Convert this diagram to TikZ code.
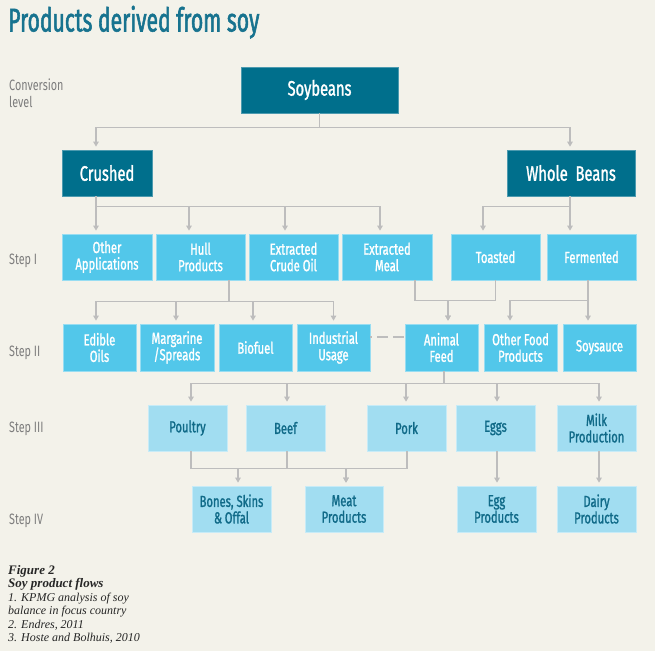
\documentclass[tikz,border=0pt]{standalone}
\usepackage{fontspec}
\usetikzlibrary{arrows.meta}
\newfontfamily\cond[FakeStretch=0.72]{Fira Sans}
\newfontfamily\condb[FakeStretch=0.70,FakeBold=1.3]{Fira Sans}
\newfontfamily\titlef[FakeStretch=0.64,FakeBold=1.6]{Fira Sans}
\newfontfamily\capfont{Liberation Serif}
\definecolor{bg}{HTML}{F3F2EA}
\definecolor{titlec}{HTML}{17738F}
\definecolor{darkc}{HTML}{006F8C}
\definecolor{midc}{HTML}{52C7EA}
\definecolor{lightc}{HTML}{A1DDF1}
\definecolor{lighttext}{HTML}{106A88}
\definecolor{linec}{HTML}{BDBDBD}
\definecolor{labelc}{HTML}{7D7D7D}
\begin{document}
\begin{tikzpicture}[x=1pt,y=-1pt,
  box/.style={inner sep=0pt, align=center, minimum height=46pt, line width=0.7pt},
  darkbox/.style={box, fill=darkc, draw=darkc!70!white, text=white, font=\condb\fontsize{21}{22}\selectfont},
  midbox/.style={box, fill=midc, draw=midc!60!white, text=white, font=\condb\fontsize{16}{16.5}\selectfont},
  lightbox/.style={box, fill=lightc, draw=lightc!60!white, text=lighttext, font=\condb\fontsize{16}{16.5}\selectfont},
  ln/.style={draw=linec, line width=1.3pt},
  arr/.style={ln, -{Triangle[length=5pt,width=5.5pt]}, shorten >=3pt},
  dashln/.style={ln, dash pattern=on 11pt off 5pt, dash phase=9pt},
  steplabel/.style={anchor=base west, inner sep=0pt, text=labelc, font=\cond\fontsize{15}{17}\selectfont},
  captxt/.style={anchor=base west, inner sep=0pt, text=black!85, font=\capfont\itshape\fontsize{12}{13}\selectfont},
  capbold/.style={captxt, font=\capfont\bfseries\itshape\fontsize{13}{14}\selectfont}
]
\fill[bg] (0,0) rectangle (655,651);
\useasboundingbox (0,0) rectangle (655,651);

% title
\node[anchor=base west, inner sep=0pt, text=titlec, font=\titlef\fontsize{33}{35}\selectfont] (title) at (8,31.5) {Products derived from soy};

% level labels
\node[steplabel] (conv) at (9,90) {Conversion};
\node[steplabel] (lev) at (9,107) {level};
\node[steplabel] (s1) at (9,264) {Step I};
\node[steplabel] (s2) at (9,356) {Step II};
\node[steplabel] (s3) at (9,432) {Step III};
\node[steplabel] (s4) at (9,524) {Step IV};

% boxes
\node[darkbox, minimum width=157pt] (soy) at (319.5,90) {Soybeans};
\node[darkbox, minimum width=90pt] (crushed) at (107,173) {Crushed};
\node[darkbox, minimum width=128pt] (whole) at (571,173) {Whole\ \ Beans};

\node[midbox, minimum width=90pt] (oa) at (107,257) {Other\\Applications};
\node[midbox, minimum width=89pt] (hull) at (200.5,257) {Hull\\Products};
\node[midbox, minimum width=89pt] (crude) at (293.5,257) {Extracted\\Crude Oil};
\node[midbox, minimum width=90pt] (meal) at (387,257) {Extracted\\Meal};
\node[midbox, minimum width=89pt] (toasted) at (495.5,257) {Toasted};
\node[midbox, minimum width=89pt] (ferm) at (591.5,257) {Fermented};

\node[midbox, minimum width=73pt, minimum height=47pt] (edible) at (99.5,347.5) {Edible\\Oils};
\node[midbox, minimum width=74pt, minimum height=47pt] (marg) at (177,347.5) {Margarine\\/Spreads};
\node[midbox, minimum width=73pt, minimum height=47pt] (bio) at (255.5,347.5) {Biofuel};
\node[midbox, minimum width=73pt, minimum height=47pt] (ind) at (333.5,347.5) {Industrial\\Usage};
\node[midbox, minimum width=73pt, minimum height=47pt] (feed) at (441.5,347.5) {Animal\\Feed};
\node[midbox, minimum width=73pt, minimum height=47pt] (ofp) at (520.5,347.5) {Other Food\\Products};
\node[midbox, minimum width=73pt, minimum height=47pt] (soys) at (599.5,347.5) {Soysauce};

\node[lightbox, minimum width=79pt] (poultry) at (187.5,428) {Poultry};
\node[lightbox, minimum width=79pt] (beef) at (285.5,428) {Beef};
\node[lightbox, minimum width=79pt] (pork) at (406.5,428) {Pork};
\node[lightbox, minimum width=79pt] (eggs) at (495.5,428) {Eggs};
\node[lightbox, minimum width=79pt] (milk) at (596.5,428) {Milk\\Production};

\node[lightbox, minimum width=79pt] (bones) at (231.5,509) {Bones, Skins\\\&\,Offal};
\node[lightbox, minimum width=78pt] (meat) at (344,509) {Meat\\Products};
\node[lightbox, minimum width=79pt] (eggp) at (496.5,509) {Egg\\Products};
\node[lightbox, minimum width=79pt] (dairy) at (596.5,509) {Dairy\\Products};

% connectors: conversion level
\draw[arr] (soy.south) -- ++(0,14) -| ([xshift=-11pt]crushed.north);
\draw[arr] (soy.south) -- ++(0,14) -| ([xshift=-1pt]whole.north);

% step I
\draw[arr] ([xshift=-11pt]crushed.south) -- ++(0,10) -| ([xshift=-11pt]oa.north);
\draw[arr] ([xshift=-11pt]crushed.south) -- ++(0,10) -| ([xshift=-11.5pt]hull.north);
\draw[arr] ([xshift=-11pt]crushed.south) -- ++(0,10) -| ([xshift=-8.5pt]crude.north);
\draw[arr] ([xshift=-11pt]crushed.south) -- ++(0,10) -| ([xshift=-7pt]meal.north);
\draw[arr] ([xshift=-1pt]whole.south) -- ++(0,10) -| ([xshift=-12.5pt]toasted.north);
\draw[arr] ([xshift=-1pt]whole.south) -- ++(0,10) -| ([xshift=-21.5pt]ferm.north);

% step II
\draw[arr] ([xshift=28.5pt]hull.south) -- ++(0,21) -| ([xshift=-3.5pt]edible.north);
\draw[arr] ([xshift=28.5pt]hull.south) -- ++(0,21) -| ([xshift=-1pt]marg.north);
\draw[arr] ([xshift=28.5pt]hull.south) -- ++(0,21) -| ([xshift=-2.5pt]bio.north);
\draw[arr] ([xshift=28.5pt]hull.south) -- ++(0,21) -| (ind.north);
\draw[arr] ([xshift=28pt]meal.south) -- ++(0,20) -| ([xshift=6.5pt]feed.north);
\draw[arr] (toasted.south) -- ++(0,20) -| ([xshift=6.5pt]feed.north);
\draw[arr] ([xshift=-3.5pt]ferm.south) -- ++(0,20) -| ([xshift=-10.5pt]ofp.north);
\draw[arr] ([xshift=-3.5pt]ferm.south) -- ([xshift=-11.5pt]soys.north);
\draw[dashln] ([yshift=10.5pt]ind.east) -- ([yshift=10.5pt]feed.west);

% step III
\draw[arr] ([xshift=2.5pt]feed.south) -- ++(0,12) -| ([xshift=3.5pt]poultry.north);
\draw[arr] ([xshift=2.5pt]feed.south) -- ++(0,12) -| ([xshift=1.5pt]beef.north);
\draw[arr] ([xshift=2.5pt]feed.south) -- ++(0,12) -| ([xshift=-0.5pt]pork.north);
\draw[arr] ([xshift=2.5pt]feed.south) -- ++(0,12) -| ([xshift=1.5pt]eggs.north);
\draw[arr] ([xshift=2.5pt]feed.south) -- ++(0,12) -| ([xshift=2.5pt]milk.north);

% step IV
\draw[arr] ([xshift=3.5pt]poultry.south) -- ++(0,17) -| ([xshift=6.5pt]bones.north);
\draw[arr] ([xshift=3.5pt]poultry.south) -- ++(0,17) -| ([xshift=2pt]meat.north);
\draw[ln] ([xshift=1.5pt]beef.south) -- ++(0,17);
\draw[arr] ([xshift=0.5pt]pork.south) -- ++(0,17) -| ([xshift=2pt]meat.north);
\draw[arr] ([xshift=1.5pt]eggs.south) -- ([xshift=0.5pt]eggp.north);
\draw[arr] ([xshift=2.5pt]milk.south) -- ([xshift=2.5pt]dairy.north);

% caption
\node[capbold] (fig) at (8,574) {Figure 2};
\node[capbold] (flows) at (8,587.5) {Soy product flows};
\node[captxt] (c1) at (8,601) {1. KPMG analysis of soy};
\node[captxt] (c2) at (8,614.5) {balance in focus country};
\node[captxt] (c3) at (8,628) {2. Endres, 2011};
\node[captxt] (c4) at (8,641.5) {3. Hoste and Bolhuis, 2010};
\end{tikzpicture}
\end{document}
